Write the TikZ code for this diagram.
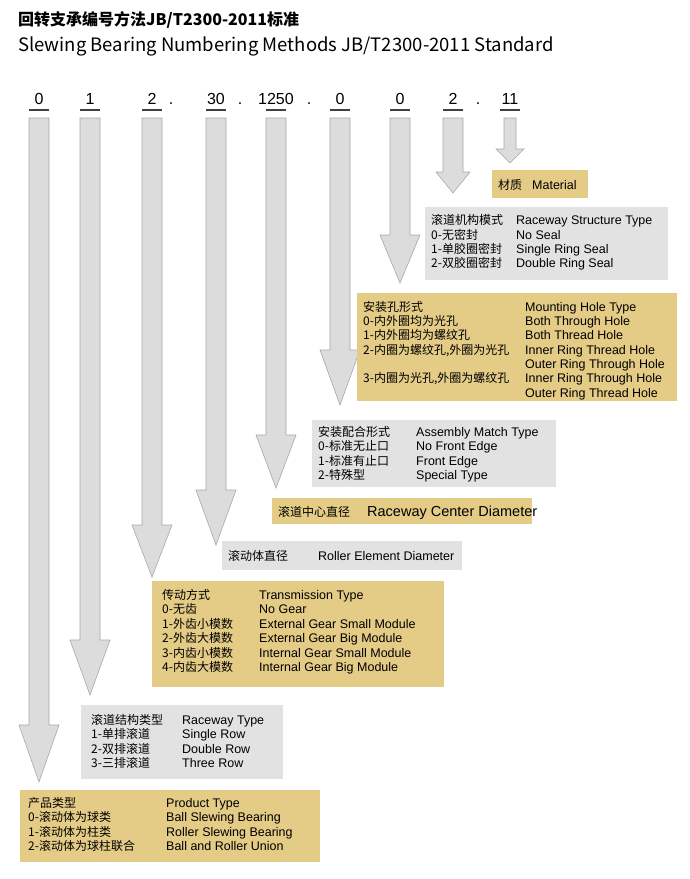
\documentclass[tikz,border=0pt]{standalone}
\usepackage{fontspec}
\setmainfont{Liberation Sans}
\newfontfamily\cjk{Noto Sans CJK SC}
\definecolor{gbox}{HTML}{E2E2E2}
\definecolor{tbox}{HTML}{E4CB86}
\definecolor{afill}{HTML}{DCDCDC}
\definecolor{aline}{HTML}{A8A8A8}
\newcommand{\arw}[4]{\fill[afill,draw=aline,line width=0.6pt] (#1-10,118) -- (#1+10,118) -- (#1+10,#2) -- (#1+#4,#2) -- (#1,#3) -- (#1-#4,#2) -- (#1-10,#2) -- cycle;}
\begin{document}
\begin{tikzpicture}[x=1pt,y=-1pt,
  txt/.style={anchor=base west,inner sep=0pt,font=\fontsize{12.5}{14}\selectfont},
  ctx/.style={anchor=base west,inner sep=0pt,font=\cjk\fontsize{12}{14}\selectfont},
  dig/.style={font=\fontsize{16}{18}\selectfont,inner sep=0pt,anchor=base},
  gb/.style={fill=gbox}, tb/.style={fill=tbox}]
\useasboundingbox (0,0) rectangle (689,879);
\node[anchor=base west,inner sep=0pt,font=\cjk\bfseries\fontsize{16}{18}\selectfont] (t1) at (18,25) {回转支承编号方法JB/T2300-2011标准};
\node[anchor=base west,inner sep=0pt,font=\cjk\fontsize{18.5}{20}\selectfont] (t2) at (18,51) {Slewing Bearing Numbering Methods JB/T2300-2011 Standard};
% digits
\foreach \x/\t in {39/0,90/1,152/2,216/30,276/1250,340/0,400/0,453/2,510/11}{
  \node[dig] at (\x,104) {\t};
  \draw[line width=1.2pt,black!75] (\x-10,110) -- (\x+10,110);}
\foreach \x in {171,240,309,478}{\node[dig] at (\x,104) {.};}
% arrows
\arw{39}{725}{782}{20}
\arw{90}{640}{695}{20}
\arw{152}{525}{577}{20}
\arw{216}{490}{545}{20}
\arw{276}{435}{488}{20}
\arw{340}{350}{405}{20}
\arw{400}{235}{283}{20}
\arw{453}{172}{193}{17}
\fill[afill,draw=aline,line width=0.6pt] (504,118) -- (516,118) -- (516,149) -- (524,149) -- (510,163) -- (496,149) -- (504,149) -- cycle;
% boxes
\fill[tb] (492,170) rectangle (588,198);
\node[ctx] (m) at (498,189) {材质};
\node[txt] (m2) at (532,189) {Material};

\fill[gb] (425,207) rectangle (668,280);
\foreach \y/\a/\b in {220/滚道机构模式/Raceway Structure Type,235/0-无密封/No Seal,249/1-单胶圈密封/Single Ring Seal,263/2-双胶圈密封/Double Ring Seal}{
  \node[ctx] at (431,\y+4.5) {\a}; \node[txt] at (516,\y+4.5) {\b};}

\fill[tb] (357,293) rectangle (677,401);
\foreach \y/\a/\b in {307/安装孔形式/Mounting Hole Type,321/0-内外圈均为光孔/Both Through Hole,335/1-内外圈均为螺纹孔/Both Thread Hole,350/{2-内圈为螺纹孔,外圈为光孔}/Inner Ring Thread Hole,364//Outer Ring Through Hole,378/{3-内圈为光孔,外圈为螺纹孔}/Inner Ring Through Hole,393//Outer Ring Thread Hole}{
  \node[ctx] at (363,\y+4.5) {\a}; \node[txt] at (525,\y+4.5) {\b};}

\fill[gb] (312,420) rectangle (556,487);
\foreach \y/\a/\b in {432/安装配合形式/Assembly Match Type,446/0-标准无止口/No Front Edge,461/1-标准有止口/Front Edge,475/2-特殊型/Special Type}{
  \node[ctx] at (318,\y+4.5) {\a}; \node[txt] at (416,\y+4.5) {\b};}

\fill[tb] (272,498) rectangle (532,524);
\node[ctx] at (278,516) {滚道中心直径};
\node[txt,font=\fontsize{14.5}{16}\selectfont] at (367,516) {Raceway Center Diameter};

\fill[gb] (222,541) rectangle (462,570);
\node[ctx] at (228,560.5) {滚动体直径};
\node[txt] at (318,560.5) {Roller Element Diameter};

\fill[tb] (152,581) rectangle (444,687);
\foreach \y/\a/\b in {595/传动方式/Transmission Type,609/0-无齿/No Gear,624/1-外齿小模数/External Gear Small Module,638/2-外齿大模数/External Gear Big Module,653/3-内齿小模数/Internal Gear Small Module,667/4-内齿大模数/Internal Gear Big Module}{
  \node[ctx] at (162,\y+4.5) {\a}; \node[txt] at (259,\y+4.5) {\b};}

\fill[gb] (81,705) rectangle (283,779);
\foreach \y/\a/\b in {720/滚道结构类型/Raceway Type,734/1-单排滚道/Single Row,749/2-双排滚道/Double Row,763/3-三排滚道/Three Row}{
  \node[ctx] at (91,\y+4.5) {\a}; \node[txt] at (182,\y+4.5) {\b};}

\fill[tb] (20,790) rectangle (320,862);
\foreach \y/\a/\b in {803/产品类型/Product Type,817/0-滚动体为球类/Ball Slewing Bearing,832/1-滚动体为柱类/Roller Slewing Bearing,846/2-滚动体为球柱联合/Ball and Roller Union}{
  \node[ctx] at (28,\y+4.5) {\a}; \node[txt] at (166,\y+4.5) {\b};}
\end{tikzpicture}
\end{document}
